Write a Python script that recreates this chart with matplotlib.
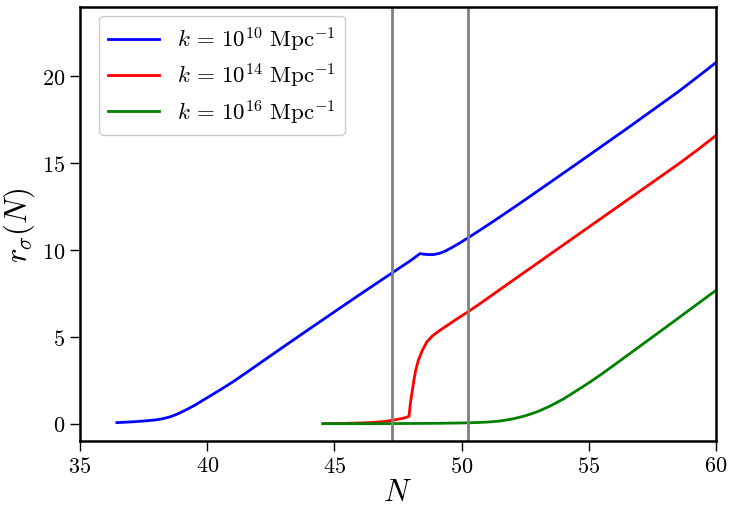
import matplotlib
matplotlib.use('Agg')
import matplotlib.pyplot as plt

plt.rcParams["font.family"] = "serif"
plt.rcParams["font.serif"] = ["cmr10"]
plt.rcParams["mathtext.fontset"] = "cm"
plt.rcParams["axes.formatter.use_mathtext"] = True
plt.rcParams["axes.unicode_minus"] = False

# blue: k = 1e10
N_blue = [36.45, 37.0, 37.5, 38.0, 38.3, 38.6, 38.9, 39.2, 39.5, 39.8, 40.2, 40.6,
          41.0, 41.5, 42.0, 43.0, 44.0, 45.0, 46.0, 47.0, 47.5, 48.0, 48.37, 48.5,
          48.7, 48.9, 49.1, 49.3, 49.55, 49.9, 50.25, 50.8, 51.5, 52.5, 53.5, 54.5,
          55.5, 56.5, 57.5, 58.5, 59.3, 60.0]
r_blue = [0.06, 0.1, 0.15, 0.22, 0.3, 0.42, 0.6, 0.82, 1.05, 1.32, 1.67, 2.03,
          2.4, 2.9, 3.41, 4.43, 5.44, 6.44, 7.44, 8.42, 8.91, 9.4, 9.8, 9.76,
          9.74, 9.74, 9.8, 9.9, 10.09, 10.38, 10.7, 11.22, 11.9, 12.9, 13.92, 14.94,
          15.97, 17.0, 18.05, 19.1, 20.0, 20.8]

# red: k = 1e14
N_red = [44.55, 45.0, 45.5, 46.0, 46.5, 47.0, 47.3, 47.6, 47.8, 47.93, 47.96, 47.99,
         48.03, 48.08, 48.13, 48.2, 48.3, 48.45, 48.63, 48.85, 49.15, 49.5, 49.8,
         50.25, 50.8, 51.5, 52.5, 53.5, 54.5, 55.5, 56.5, 57.5, 58.5, 59.3, 60.0]
r_red = [0.0, 0.01, 0.02, 0.04, 0.07, 0.13, 0.2, 0.28, 0.35, 0.42, 0.8, 1.2,
         1.6, 2.05, 2.55, 3.1, 3.65, 4.2, 4.7, 5.05, 5.38, 5.72, 6.02,
         6.44, 6.99, 7.72, 8.75, 9.78, 10.81, 11.84, 12.87, 13.9, 14.93, 15.8, 16.6]

# green: k = 1e16
N_green = [44.55, 46.0, 48.0, 49.0, 50.0, 50.5, 51.0, 51.5, 52.0, 52.5, 53.0, 53.5,
           54.0, 54.5, 55.0, 55.5, 56.0, 57.0, 58.0, 59.0, 60.0]
r_green = [0.0, 0.0, 0.01, 0.02, 0.04, 0.06, 0.09, 0.15, 0.27, 0.45, 0.7, 1.03,
           1.42, 1.88, 2.35, 2.85, 3.38, 4.45, 5.52, 6.6, 7.68]

N_marks = [47.27, 50.25]

fig = plt.figure(figsize=(7.3, 5.1), dpi=100)
ax = fig.add_axes([0.1096, 0.1333, 0.8712, 0.8510])

ax.plot(N_blue, r_blue, color='blue', lw=2, label=r'$k\,=\,10^{10}\ \mathrm{Mpc}^{-1}$')
ax.plot(N_red, r_red, color='red', lw=2, label=r'$k\,=\,10^{14}\ \mathrm{Mpc}^{-1}$')
ax.plot(N_green, r_green, color='green', lw=2, label=r'$k\,=\,10^{16}\ \mathrm{Mpc}^{-1}$')
for n in N_marks:
    ax.axvline(n, color='gray', lw=2)

ax.set_xlim(35, 60)
ax.set_ylim(-1, 24)
ax.set_xticks([35, 40, 45, 50, 55, 60])
ax.set_yticks([0, 5, 10, 15, 20])
ax.set_xlabel(r'$N$', fontsize=22, labelpad=2)
ax.set_ylabel(r'$r_\sigma(N)$', fontsize=22, labelpad=4)
ax.tick_params(labelsize=16, length=7, width=1, direction='out')
for s in ax.spines.values():
    s.set_linewidth(1.8)

ax.legend(loc='upper left', bbox_to_anchor=(0.03, 0.98), borderaxespad=0,
          fontsize=16.5, handlelength=2.2, framealpha=1,
          borderpad=0.4, labelspacing=0.35)

fig.savefig('out.png', dpi=100)
